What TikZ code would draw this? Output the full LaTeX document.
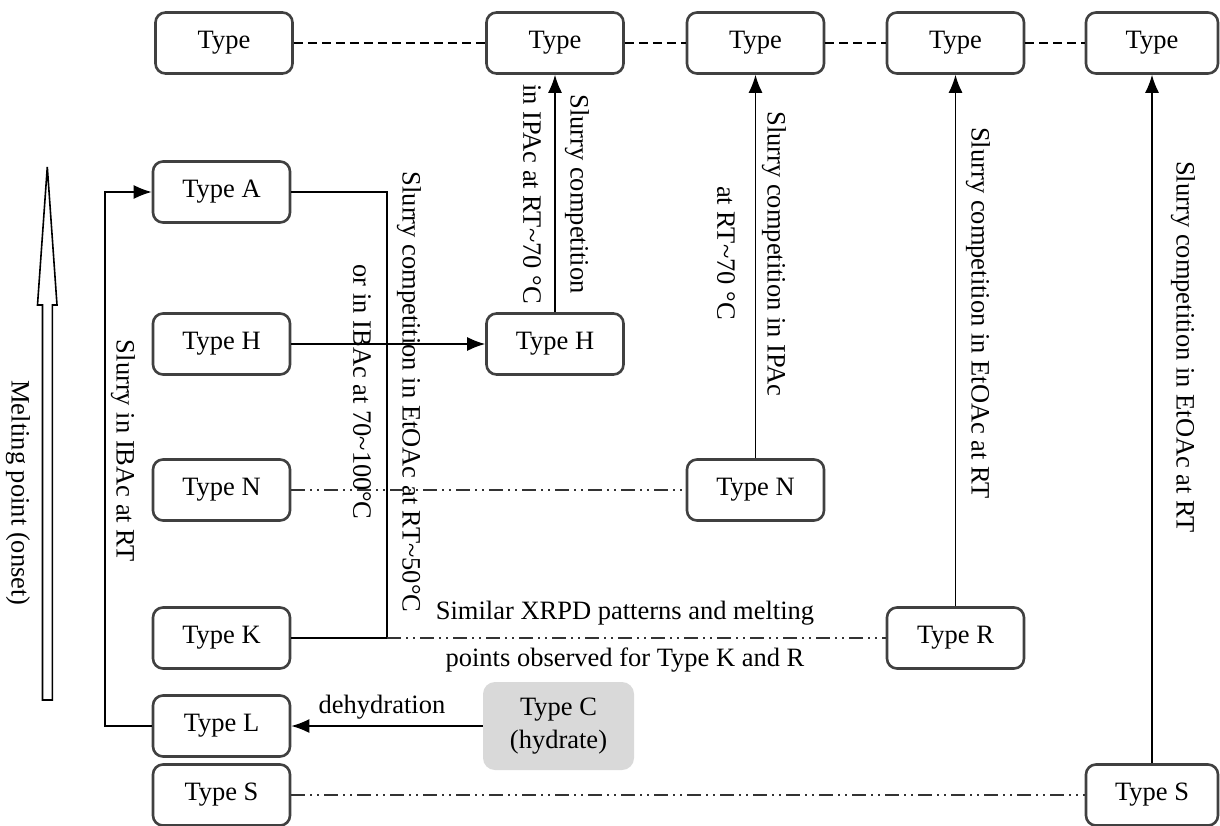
\documentclass[tikz,border=0pt]{standalone}
\usepackage{fontspec}
\setmainfont{Liberation Serif}
\usetikzlibrary{arrows.meta}
\begin{document}
\begin{tikzpicture}[x=1pt,y=-1pt,
  font=\fontsize{26.5}{31}\selectfont,
  typebox/.style={draw=black!75, line width=2.6pt, rounded corners=10pt, fill=white,
    minimum width=137pt, minimum height=61pt, inner sep=0pt},
  hydbox/.style={fill=black!15, rounded corners=12pt, minimum width=151pt, minimum height=88pt,
    inner sep=0pt, align=center, font=\fontsize{26.5}{33}\selectfont},
  conn/.style={line width=1.5pt, black},
  arr/.style={conn, -{Latex[length=18pt,width=14pt]}},
  topdash/.style={line width=1.5pt, dash pattern=on 9pt off 5pt},
  ddot/.style={line width=1.5pt, black!80, dash pattern=on 14pt off 5pt on 2pt off 5pt on 2pt off 5pt},
  vlab/.style={rotate=-90, inner sep=0pt}
]
\useasboundingbox (0,0) rectangle (1220,826);

% top row
\node[typebox] (T1) at (224,43) {Type};
\node[typebox] (T2) at (555,43) {Type};
\node[typebox] (T3) at (755.5,43) {Type};
\node[typebox] (T4) at (955.5,43) {Type};
\node[typebox, minimum width=132pt] (T5) at (1152,43) {Type};

% left column
\node[typebox] (A) at (221.5,192) {Type A};
\node[typebox] (H) at (221.5,344) {Type H};
\node[typebox] (N) at (221.5,490) {Type N};
\node[typebox] (K) at (221.5,638) {Type K};
\node[typebox] (L) at (221.5,726) {Type L};
\node[typebox] (S) at (221.5,795) {Type S};

% other nodes
\node[typebox] (H2) at (555,344) {Type H};
\node[typebox] (N2) at (755.5,490) {Type N};
\node[typebox] (R) at (955.5,638) {Type R};
\node[typebox, minimum width=132pt] (S2) at (1152,795) {Type S};
\node[hydbox] (C) at (558.5,726) {Type C\\(hydrate)};

% top dashed connections
\draw[topdash] (T1) -- (T2);
\draw[topdash] (T2) -- (T3);
\draw[topdash] (T3) -- (T4);
\draw[topdash] (T4) -- (T5);

% melting point arrow
\draw[line width=1.6pt, fill=white] (42.5,700) -- (42.5,305) -- (37.5,305) -- (47.3,167) -- (57,305) -- (52.3,305) -- (52.3,700) -- cycle;
\node[vlab] (mp) at (18,493) {Melting point (onset)};

% L -> A
\coordinate (lc) at (105,726);
\draw[arr] (L.west) -- (lc) |- (A.west);
\node[vlab] (lab1) at (123,451) {Slurry in IBAc at RT};

% A - K
\coordinate (ak) at (387,638);
\draw[conn] (A.east) -| (ak) -- (K.east);
\node[vlab] (lab2a) at (409,392) {Slurry competition in EtOAc at RT\textasciitilde 50°C};
\node[vlab] (lab2b) at (362,392) {or in IBAc at 70\textasciitilde 100°C};

% H -> H2
\draw[arr] (H.east) -- (H2.west);

% N - N2, K - R, S - S2
\draw[ddot] (N.east) -- (N2.west);
\draw[ddot] (ak) -- (R.west);
\draw[ddot] (S.east) -- (S2.west);
\node (sim1) at (625,613) {Similar XRPD patterns and melting};
\node (sim2) at (625,660) {points observed for Type K and R};

% C -> L
\draw[arr] (C.west) -- (L.east);
\node (deh) at (382,707) {dehydration};

% vertical arrows
\draw[arr] (H2.north) -- (T2.south);
\node[vlab] (lab3a) at (577,194) {Slurry competition};
\node[vlab] (lab3b) at (532,194) {in IPAc at RT\textasciitilde 70 °C};

\draw[arr] (N2.north) -- (T3.south);
\node[vlab] (lab4a) at (774,254) {Slurry competition in IPAc};
\node[vlab] (lab4b) at (726,253) {at RT\textasciitilde 70 °C};

\draw[arr] (R.north) -- (T4.south);
\node[vlab] (lab5) at (978,313) {Slurry competition in EtOAc at RT};

\draw[arr] (S2.north) -- (T5.south);
\node[vlab] (lab6) at (1183,347) {Slurry competition in EtOAc at RT};
\end{tikzpicture}
\end{document}
